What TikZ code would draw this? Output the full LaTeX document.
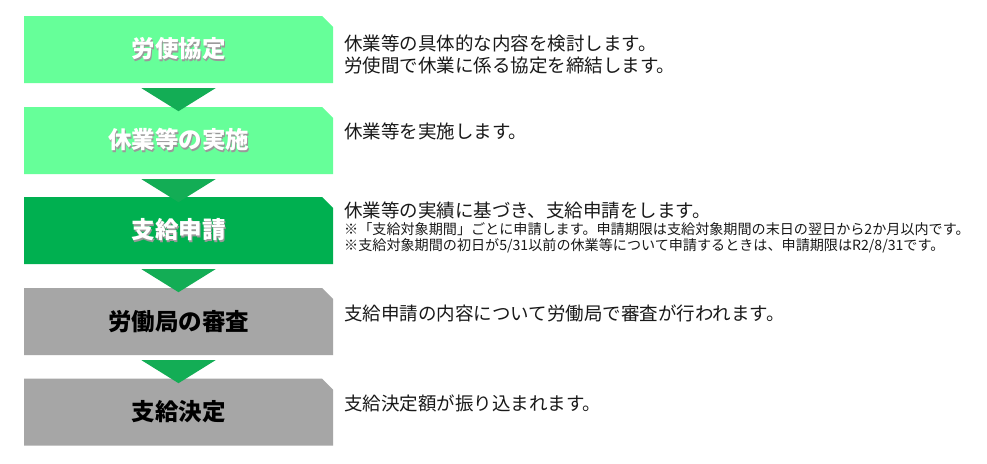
\documentclass[tikz,border=0pt]{standalone}
\usepackage{fontspec}
\setmainfont{Noto Sans CJK JP}
\usetikzlibrary{shapes.misc}
\definecolor{stepgreen}{HTML}{66FF99}
\definecolor{stepdarkgreen}{HTML}{00B050}
\definecolor{arrowgreen}{HTML}{13AD55}
\definecolor{stepgray}{HTML}{A6A6A6}
\newcommand{\shadowlabel}[1]{\rlap{\kern1.3pt\raisebox{-1.3pt}{\color{black!40}#1}}#1}
\tikzset{
  flowbox/.style={chamfered rectangle, chamfered rectangle corners=north east,
    chamfered rectangle xsep=5.5pt, chamfered rectangle ysep=5.5pt,
    minimum width=309pt, minimum height=67pt, inner sep=0pt,
    font=\fontsize{23.5}{28}\selectfont\bfseries},
  desc/.style={anchor=base west, inner sep=0pt, text=black!90, font=\fontsize{18.5}{22}\selectfont},
  note/.style={anchor=base west, inner sep=0pt, text=black!90, font=\fontsize{14.1}{16}\selectfont},
  downarrow/.style={fill=arrowgreen}
}
\begin{document}
\begin{tikzpicture}[x=1pt,y=-1pt]
  \fill[white] (0,0) rectangle (987,463);
  % steps
  \node[flowbox, fill=stepgreen, text=white] (b1) at (178.5,49.5) {\shadowlabel{労使協定}};
  \node[flowbox, fill=stepgreen, text=white] (b2) at (178.5,140.5) {\shadowlabel{休業等の実施}};
  \node[flowbox, fill=stepdarkgreen, text=white] (b3) at (178.5,230.5) {\shadowlabel{支給申請}};
  \node[flowbox, fill=stepgray, text=black] (b4) at (178.5,321.5) {労働局の審査};
  \node[flowbox, fill=stepgray, text=black] (b5) at (178.5,412) {支給決定};
  % arrows between the steps
  \fill[downarrow] ([xshift=-37pt,yshift=-5pt]b1.south) -- ([xshift=37pt,yshift=-5pt]b1.south) -- ([yshift=-28pt]b1.south) -- cycle;
  \fill[downarrow] ([xshift=-37pt,yshift=-5pt]b2.south) -- ([xshift=37pt,yshift=-5pt]b2.south) -- ([yshift=-28pt]b2.south) -- cycle;
  \fill[downarrow] ([xshift=-37pt,yshift=-5pt]b3.south) -- ([xshift=37pt,yshift=-5pt]b3.south) -- ([yshift=-28pt]b3.south) -- cycle;
  \fill[downarrow] ([xshift=-37pt,yshift=-5pt]b4.south) -- ([xshift=37pt,yshift=-5pt]b4.south) -- ([yshift=-28pt]b4.south) -- cycle;
  % descriptions
  \node[desc] (d1a) at (344,50) {休業等の具体的な内容を検討します。};
  \node[desc] (d1b) at (344,72) {労使間で休業に係る協定を締結します。};
  \node[desc] (d2) at (344,138) {休業等を実施します。};
  \node[desc] (d3) at (344,217) {休業等の実績に基づき、支給申請をします。};
  \node[note] (n3a) at (344,234) {※「支給対象期間」ごとに申請します。申請期限は支給対象期間の末日の翌日から2か月以内です。};
  \node[note] (n3b) at (344,250) {※支給対象期間の初日が5/31以前の休業等について申請するときは、申請期限はR2/8/31です。};
  \node[desc] (d4) at (344,320) {支給申請の内容について労働局で審査が行われます。};
  \node[desc] (d5) at (344,410) {支給決定額が振り込まれます。};
\end{tikzpicture}
\end{document}
